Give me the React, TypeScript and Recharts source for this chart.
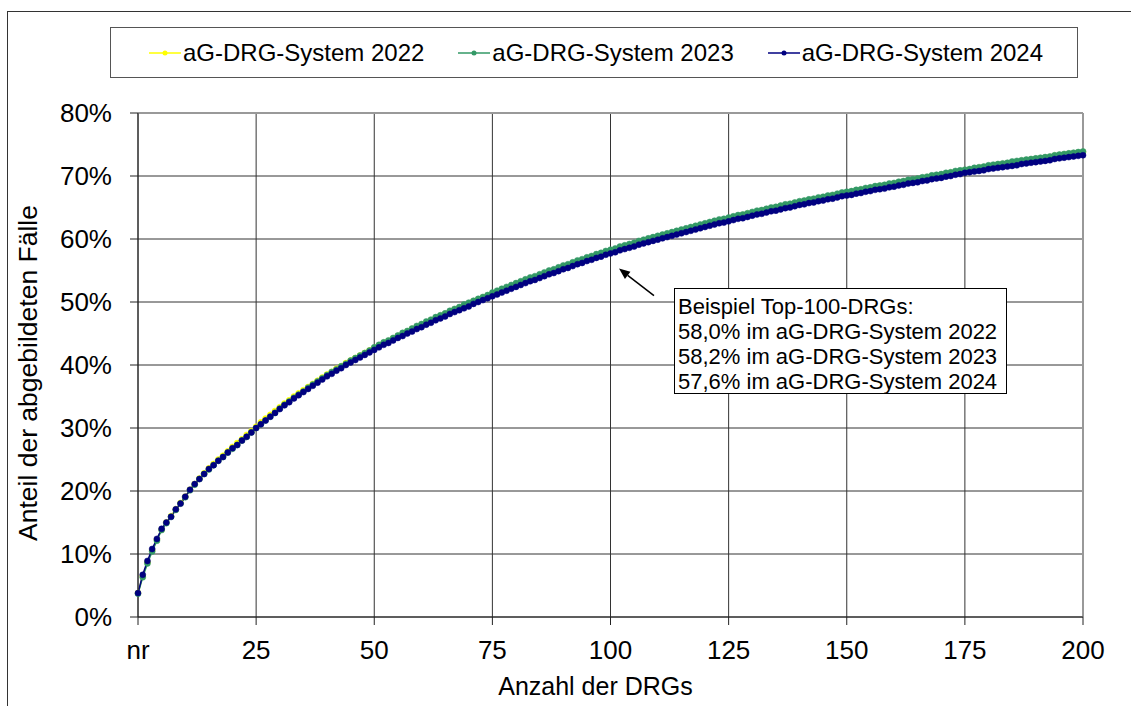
import { LineChart, Line, XAxis, YAxis, CartesianGrid, Legend, ReferenceLine } from "recharts";

// Anteil der abgebildeten Fälle (%) je Anzahl der DRGs, Index 0 = "nr"
const system2022 = [
  3.8, 6.5, 8.7, 10.6, 12.3, 13.9, 15.0, 16.0, 17.1, 18.1, 19.1, 20.2, 21.1, 22.0, 22.8, 23.6, 24.3, 25.0, 25.6, 26.3,
  27.0, 27.6, 28.2, 28.9, 29.5, 30.2, 30.9, 31.5, 32.1, 32.7, 33.3, 33.9, 34.4, 35.0, 35.5, 36.0, 36.5, 37.0, 37.5, 38.0,
  38.5, 38.9, 39.4, 39.8, 40.3, 40.7, 41.1, 41.5, 41.9, 42.3, 42.7, 43.1, 43.5, 43.8, 44.2, 44.6, 44.9, 45.3, 45.7, 46.0,
  46.4, 46.7, 47.1, 47.4, 47.8, 48.1, 48.4, 48.8, 49.1, 49.4, 49.7, 50.1, 50.4, 50.7, 51.0, 51.3, 51.6, 51.9, 52.2, 52.5,
  52.8, 53.1, 53.4, 53.7, 53.9, 54.2, 54.5, 54.8, 55.0, 55.3, 55.6, 55.8, 56.1, 56.4, 56.6, 56.9, 57.1, 57.4, 57.6, 57.9,
  58.1, 58.3, 58.6, 58.8, 59.0, 59.2, 59.5, 59.7, 59.9, 60.1, 60.3, 60.5, 60.7, 60.9, 61.1, 61.3, 61.5, 61.7, 61.9, 62.1,
  62.3, 62.5, 62.7, 62.9, 63.0, 63.2, 63.4, 63.6, 63.8, 64.0, 64.1, 64.3, 64.5, 64.7, 64.8, 65.0, 65.2, 65.3, 65.5, 65.7,
  65.8, 66.0, 66.1, 66.3, 66.4, 66.6, 66.7, 66.9, 67.0, 67.2, 67.3, 67.5, 67.6, 67.8, 67.9, 68.1, 68.2, 68.4, 68.5, 68.6,
  68.8, 68.9, 69.1, 69.2, 69.3, 69.5, 69.6, 69.8, 69.9, 70.0, 70.2, 70.3, 70.5, 70.6, 70.7, 70.9, 71.0, 71.1, 71.3, 71.4,
  71.5, 71.6, 71.8, 71.9, 72.0, 72.1, 72.2, 72.4, 72.5, 72.6, 72.7, 72.8, 72.9, 73.0, 73.2, 73.3, 73.4, 73.5, 73.6, 73.7,
  73.8,
];

const system2023 = [
  3.7, 6.3, 8.5, 10.4, 12.1, 13.8, 14.9, 15.9, 17.0, 18.0, 19.0, 20.1, 21.0, 21.9, 22.7, 23.4, 24.1, 24.8, 25.4, 26.1,
  26.7, 27.3, 28.0, 28.6, 29.3, 30.0, 30.6, 31.2, 31.8, 32.4, 33.1, 33.7, 34.2, 34.8, 35.3, 35.8, 36.4, 36.9, 37.4, 37.9,
  38.4, 38.9, 39.3, 39.8, 40.2, 40.7, 41.1, 41.5, 41.9, 42.3, 42.8, 43.2, 43.6, 43.9, 44.3, 44.7, 45.1, 45.4, 45.8, 46.2,
  46.5, 46.9, 47.2, 47.6, 47.9, 48.2, 48.6, 48.9, 49.2, 49.6, 49.9, 50.2, 50.5, 50.8, 51.1, 51.5, 51.8, 52.1, 52.4, 52.7,
  53.0, 53.3, 53.6, 53.9, 54.1, 54.4, 54.7, 55.0, 55.2, 55.5, 55.8, 56.0, 56.3, 56.6, 56.8, 57.1, 57.3, 57.6, 57.8, 58.1,
  58.3, 58.5, 58.8, 59.0, 59.2, 59.4, 59.7, 59.9, 60.1, 60.3, 60.5, 60.7, 60.9, 61.1, 61.3, 61.5, 61.7, 61.9, 62.1, 62.3,
  62.5, 62.7, 62.9, 63.1, 63.2, 63.4, 63.6, 63.8, 63.9, 64.1, 64.3, 64.5, 64.6, 64.8, 65.0, 65.1, 65.3, 65.5, 65.6, 65.8,
  66.0, 66.1, 66.3, 66.4, 66.6, 66.7, 66.9, 67.0, 67.2, 67.4, 67.5, 67.6, 67.8, 67.9, 68.1, 68.2, 68.4, 68.5, 68.6, 68.8,
  68.9, 69.1, 69.2, 69.4, 69.5, 69.6, 69.8, 69.9, 70.1, 70.2, 70.3, 70.5, 70.6, 70.8, 70.9, 71.0, 71.1, 71.3, 71.4, 71.5,
  71.7, 71.8, 71.9, 72.0, 72.1, 72.3, 72.4, 72.5, 72.6, 72.7, 72.8, 72.9, 73.0, 73.1, 73.3, 73.4, 73.5, 73.6, 73.7, 73.8,
  73.9,
];

const system2024 = [
  3.8, 6.7, 8.9, 10.8, 12.4, 14.0, 15.0, 15.9, 17.1, 18.0, 19.1, 20.2, 21.1, 21.9, 22.7, 23.5, 24.1, 24.8, 25.4, 26.1,
  26.8, 27.3, 28.0, 28.6, 29.3, 30.0, 30.6, 31.2, 31.8, 32.4, 33.0, 33.6, 34.1, 34.7, 35.2, 35.7, 36.2, 36.7, 37.2, 37.7,
  38.2, 38.6, 39.1, 39.5, 40.0, 40.4, 40.8, 41.2, 41.6, 42.0, 42.4, 42.8, 43.2, 43.5, 43.9, 44.3, 44.6, 45.0, 45.3, 45.7,
  46.0, 46.4, 46.7, 47.1, 47.4, 47.7, 48.1, 48.4, 48.7, 49.0, 49.3, 49.7, 50.0, 50.3, 50.6, 50.9, 51.2, 51.5, 51.8, 52.1,
  52.4, 52.7, 53.0, 53.3, 53.5, 53.8, 54.1, 54.4, 54.6, 54.9, 55.2, 55.4, 55.7, 56.0, 56.2, 56.5, 56.7, 57.0, 57.2, 57.5,
  57.7, 57.9, 58.2, 58.4, 58.6, 58.8, 59.1, 59.3, 59.5, 59.7, 59.9, 60.1, 60.3, 60.5, 60.7, 60.9, 61.1, 61.3, 61.5, 61.7,
  61.9, 62.1, 62.3, 62.5, 62.6, 62.8, 63.0, 63.2, 63.3, 63.5, 63.7, 63.9, 64.0, 64.2, 64.4, 64.5, 64.7, 64.9, 65.0, 65.2,
  65.4, 65.5, 65.7, 65.8, 66.0, 66.1, 66.3, 66.4, 66.6, 66.8, 66.9, 67.0, 67.2, 67.3, 67.5, 67.6, 67.8, 67.9, 68.0, 68.2,
  68.3, 68.5, 68.6, 68.8, 68.9, 69.0, 69.2, 69.3, 69.5, 69.6, 69.7, 69.9, 70.0, 70.2, 70.3, 70.5, 70.6, 70.7, 70.8, 70.9,
  71.1, 71.2, 71.3, 71.4, 71.5, 71.6, 71.7, 71.9, 72.0, 72.1, 72.2, 72.3, 72.4, 72.5, 72.7, 72.8, 72.9, 73.0, 73.1, 73.2,
  73.3,
];

const xTicks = [0, 25, 50, 75, 100, 125, 150, 175, 200];
const xTickLabels = ["nr", "25", "50", "75", "100", "125", "150", "175", "200"];
const yTicks = [0, 10, 20, 30, 40, 50, 60, 70, 80];

const seriesNames = ["aG-DRG-System 2022", "aG-DRG-System 2023", "aG-DRG-System 2024"];
const seriesColors = ["#FFFF00", "#339966", "#000080"];

const noteLines = [
  "Beispiel Top-100-DRGs:",
  "58,0% im aG-DRG-System 2022",
  "58,2% im aG-DRG-System 2023",
  "57,6% im aG-DRG-System 2024",
];

// arrow from the note box to the 100-DRG point (data coords)
const arrowFrom = { x: 109.2, y: 51.0 };
const arrowTo = { x: 101.8, y: 55.3 };

const data = system2024.map((v, i) => ({
  rank: i,
  s2022: system2022[i],
  s2023: system2023[i],
  s2024: v,
}));

const FONT = "'Liberation Sans', Arial, Helvetica, sans-serif";

const LegendBox = () => (
  <div
    style={{
      position: "absolute",
      left: 110,
      top: 27,
      width: 968,
      height: 51,
      border: "1px solid #555",
      background: "#fff",
      display: "flex",
      alignItems: "center",
      paddingLeft: 38,
      boxSizing: "border-box",
      fontFamily: FONT,
      fontSize: 24,
      color: "#000",
    }}
  >
    {seriesNames.map((name, i) => (
      <div key={name} style={{ display: "flex", alignItems: "center", width: 312 }}>
        <svg width={32} height={10} style={{ marginRight: 2 }}>
          <line x1={0} y1={5} x2={32} y2={5} stroke={seriesColors[i]} strokeWidth={1.5} />
          <circle cx={16} cy={5} r={2.5} fill={seriesColors[i]} />
        </svg>
        <span style={{ whiteSpace: "nowrap" }}>{name}</span>
      </div>
    ))}
  </div>
);

const Arrow = (props: any) => {
  const { x1, y1, x2, y2 } = props;
  const ang = Math.atan2(y2 - y1, x2 - x1);
  const len = 11;
  const w = 4.5;
  const bx = x2 - len * Math.cos(ang);
  const by = y2 - len * Math.sin(ang);
  const px = -Math.sin(ang) * w;
  const py = Math.cos(ang) * w;
  return (
    <g>
      <line x1={x1} y1={y1} x2={bx} y2={by} stroke="#000" strokeWidth={1.5} />
      <polygon points={`${x2},${y2} ${bx + px},${by + py} ${bx - px},${by - py}`} fill="#000" />
    </g>
  );
};

const dotStyle = (c: string) => ({ r: 3, fill: c, stroke: c, strokeWidth: 0.5 });

export default function App() {
  return (
    <div style={{ position: "absolute", left: 0, top: 0, width: 1131, height: 706, overflow: "hidden", background: "#fff" }}>
      <div
        style={{
          position: "absolute",
          left: 7,
          top: 11,
          width: 1140,
          height: 720,
          borderLeft: "1.5px solid #333",
          borderTop: "1.5px solid #333",
        }}
      />
      <LineChart
        width={1131}
        height={706}
        data={data}
        margin={{ top: 113, right: 48, bottom: 9, left: 38 }}
        style={{ position: "absolute", left: 0, top: 0 }}
      >
        <CartesianGrid stroke="#333" strokeWidth={1} />
        <XAxis
          dataKey="rank"
          type="number"
          domain={[0, 200]}
          ticks={xTicks}
          tickFormatter={(v: number) => xTickLabels[xTicks.indexOf(v)]}
          height={80}
          tickSize={8}
          tickMargin={16}
          stroke="#222"
          tick={{ fill: "#000", fontSize: 26, fontFamily: FONT }}
          label={{ value: "Anzahl der DRGs", position: "insideBottom", offset: 2, dx: -15, fill: "#000", fontSize: 25, fontFamily: FONT }}
        />
        <YAxis
          type="number"
          domain={[0, 80]}
          ticks={yTicks}
          tickFormatter={(v: number) => `${v}%`}
          width={100}
          tickSize={8}
          tickMargin={18}
          stroke="#222"
          tick={{ fill: "#000", fontSize: 26, fontFamily: FONT }}
          label={{
            content: ({ viewBox }: any) => {
              const cx = viewBox.x - 10;
              const cy = viewBox.y + viewBox.height / 2 + 8;
              return (
                <text
                  x={cx}
                  y={cy}
                  transform={`rotate(-90 ${cx} ${cy})`}
                  textAnchor="middle"
                  dominantBaseline="central"
                  fontSize={26.5}
                  fontFamily={FONT}
                  fill="#000"
                >
                  Anteil der abgebildeten Fälle
                </text>
              );
            },
          }}
        />
        <ReferenceLine y={80} stroke="#999" strokeWidth={2} />
        <ReferenceLine x={200} stroke="#999" strokeWidth={2} />
        <Legend content={() => <LegendBox />} wrapperStyle={{ position: "absolute", left: 0, top: 0, width: 0, height: 0 }} />
        <Line
          dataKey="s2022"
          name={seriesNames[0]}
          stroke={seriesColors[0]}
          strokeWidth={1.5}
          dot={dotStyle(seriesColors[0])}
          isAnimationActive={false}
        />
        <Line
          dataKey="s2023"
          name={seriesNames[1]}
          stroke={seriesColors[1]}
          strokeWidth={1.5}
          dot={dotStyle(seriesColors[1])}
          isAnimationActive={false}
        />
        <Line
          dataKey="s2024"
          name={seriesNames[2]}
          stroke={seriesColors[2]}
          strokeWidth={1.5}
          dot={dotStyle(seriesColors[2])}
          isAnimationActive={false}
        />
        <ReferenceLine segment={[arrowFrom, arrowTo]} ifOverflow="visible" shape={Arrow} />
      </LineChart>
      <div
        style={{
          position: "absolute",
          left: 674,
          top: 288,
          width: 333,
          height: 106,
          border: "1.5px solid #000",
          background: "#fff",
          boxSizing: "border-box",
          padding: "5px 0 0 3px",
          fontFamily: FONT,
          fontSize: 22,
          lineHeight: "25px",
          color: "#000",
          whiteSpace: "nowrap",
        }}
      >
        {noteLines.map((l) => (
          <div key={l}>{l}</div>
        ))}
      </div>
    </div>
  );
}
